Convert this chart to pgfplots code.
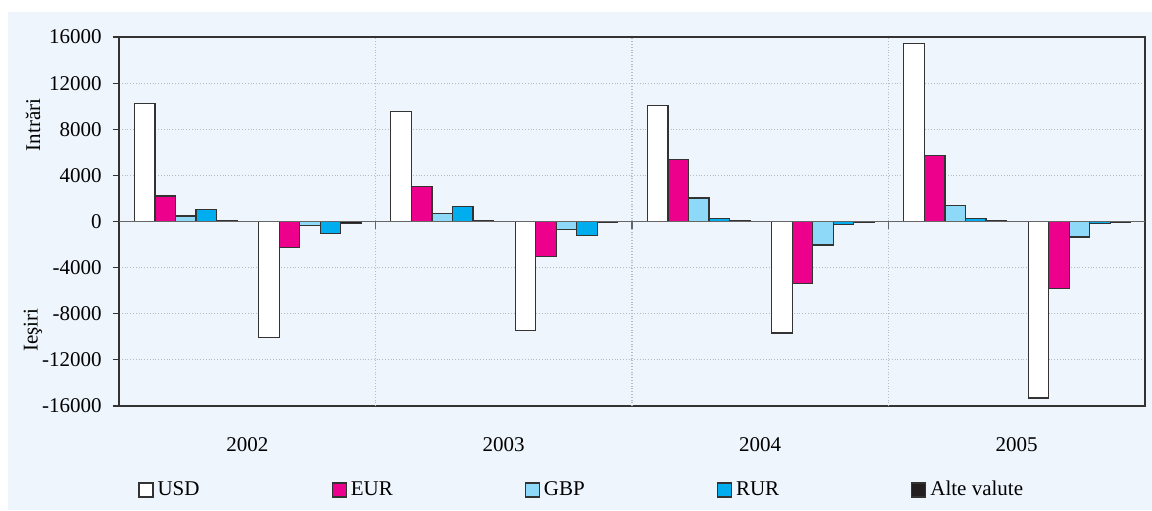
\documentclass[border=0pt]{standalone}
\usepackage{fontspec}
\setmainfont{Liberation Serif}
\usepackage{pgfplots}
\pgfplotsset{compat=1.18}
\definecolor{bgblue}{HTML}{EEF5FD}
\definecolor{usd}{HTML}{FFFFFF}
\definecolor{eur}{HTML}{EC008C}
\definecolor{gbp}{HTML}{8ED8F8}
\definecolor{rur}{HTML}{00AEEF}
\definecolor{alte}{HTML}{231F20}
\definecolor{edge}{HTML}{333333}
\definecolor{gridc}{HTML}{B4BCC8}
\begin{document}
\fontsize{10.5}{12}\selectfont
\begin{tikzpicture}[x=1pt,y=1pt]
\fill[bgblue] (4,0) rectangle (576,249);
\useasboundingbox (0,0) rectangle (576,255);
\begin{axis}[
  at={(59.5pt,52pt)}, anchor=south west,
  width=513pt, height=184.5pt, scale only axis,
  xmin=0, xmax=4, ymin=-16000, ymax=16000,
  scaled y ticks=false,
  ybar=0pt, bar width=0.08,
  xtick={0.5,1.5,2.5,3.5},
  xticklabels={2002,2003,2004,2005},
  x tick style={draw=none},
  xticklabel style={yshift=-9pt},
  extra x ticks={1,2,3},
  extra x tick labels={},
  extra x tick style={grid=major, major tick length=0pt},
  ytick={-16000,-12000,-8000,-4000,0,4000,8000,12000,16000},
  yticklabels={-16000,-12000,-8000,-4000,0,4000,8000,12000,16000},
  yticklabel style={xshift=-2pt},
  tick align=outside,
  major tick length=3pt,
  y tick style={draw=edge, line width=0.6pt},
  xtick pos=bottom, ytick pos=left,
  ymajorgrids,
  major grid style={densely dotted, color=gridc, line width=0.6pt},
  axis line style={draw=edge, line width=0.6pt},
  axis background/.style={fill=bgblue},
  legend style={at={(0.0185,-0.2276)}, anchor=west, draw=none, fill=none,
    legend columns=5, inner sep=0pt,
    /tikz/every even column/.append style={column sep=64pt}},
  legend image code/.code={\draw[#1, line width=0.6pt] (0pt,-3.5pt) rectangle (7pt,3.5pt);},
  every axis plot/.append style={draw=edge, line width=0.6pt},
  clip=false,
]
\addplot[fill=usd, bar shift=-0.16] coordinates {
  (0.26,10200) (0.745,-10050) (1.26,9510) (1.745,-9470)
  (2.26,10050) (2.745,-9670) (3.26,15460) (3.745,-15300)};
\addlegendentry{USD}
\addplot[fill=eur, bar shift=-0.08] coordinates {
  (0.26,2220) (0.745,-2250) (1.26,3010) (1.745,-3000)
  (2.26,5400) (2.745,-5400) (3.26,5720) (3.745,-5810)};
\addlegendentry{EUR}
\addplot[fill=gbp, bar shift=0] coordinates {
  (0.26,470) (0.745,-370) (1.26,670) (1.745,-660)
  (2.26,2030) (2.745,-2040) (3.26,1390) (3.745,-1350)};
\addlegendentry{GBP}
\addplot[fill=rur, bar shift=0.08] coordinates {
  (0.26,1010) (0.745,-1010) (1.26,1330) (1.745,-1180)
  (2.26,290) (2.745,-260) (3.26,260) (3.745,-200)};
\addlegendentry{RUR}
\addplot[fill=alte, bar shift=0.16] coordinates {
  (0.26,120) (0.745,-140) (1.26,50) (1.745,-40)
  (2.26,50) (2.745,-50) (3.26,50) (3.745,-50)};
\addlegendentry{Alte valute}
\draw[color=black!60, line width=0.6pt] (axis cs:0,0) -- (axis cs:4,0);
\draw[color=black!60, line width=0.6pt] (axis cs:1,0) -- ([yshift=-3.5pt]axis cs:1,0);
\draw[color=black!60, line width=0.6pt] (axis cs:2,0) -- ([yshift=-3.5pt]axis cs:2,0);
\draw[color=black!60, line width=0.6pt] (axis cs:3,0) -- ([yshift=-3.5pt]axis cs:3,0);
\node[rotate=90] at (axis description cs:-0.0838,0.7615) {Intrări};
\node[rotate=90] at (axis description cs:-0.0838,0.206) {Ieşiri};
\end{axis}
\end{tikzpicture}
\end{document}
